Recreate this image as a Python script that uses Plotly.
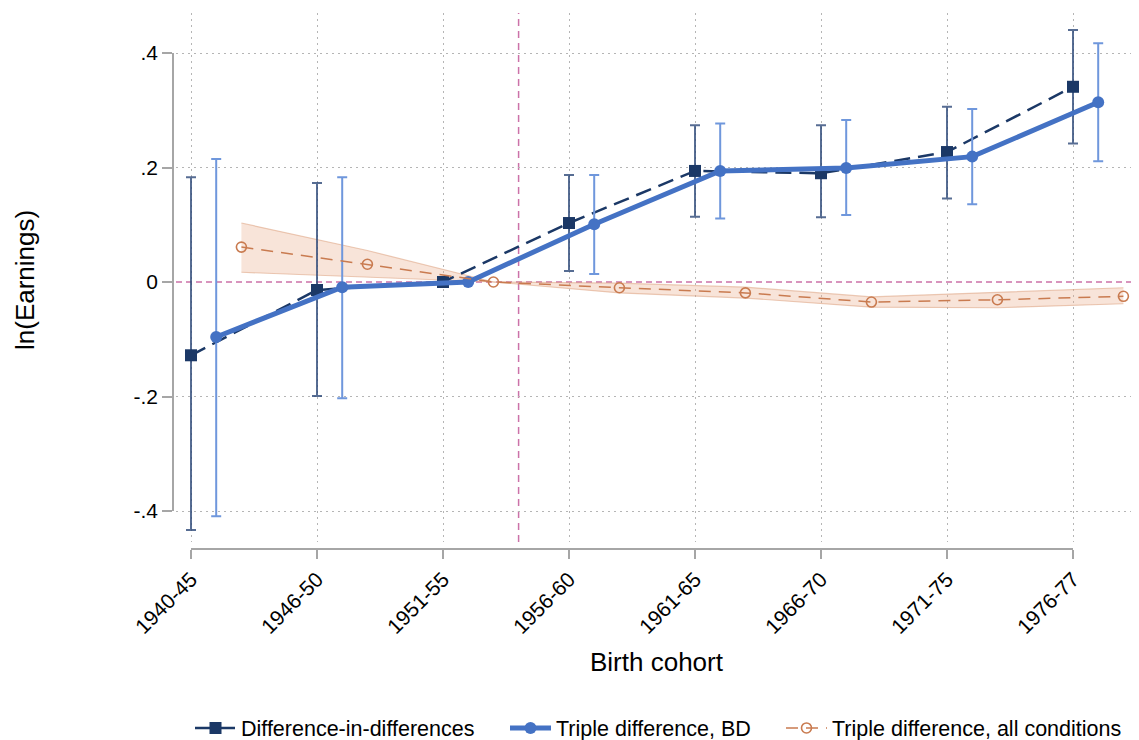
import plotly.graph_objects as go

# ---------------- data ----------------
cohorts = ["1940-45", "1946-50", "1951-55", "1956-60", "1961-65", "1966-70", "1971-75", "1976-77"]

did_est = [-0.128, -0.014, 0.0, 0.103, 0.194, 0.190, 0.227, 0.341]
did_lo = [-0.433, -0.199, None, 0.019, 0.114, 0.113, 0.146, 0.242]
did_hi = [0.183, 0.173, None, 0.187, 0.274, 0.274, 0.306, 0.440]

bd_est = [-0.096, -0.009, 0.0, 0.101, 0.194, 0.199, 0.219, 0.314]
bd_lo = [-0.409, -0.203, None, 0.014, 0.111, 0.117, 0.136, 0.211]
bd_hi = [0.215, 0.183, None, 0.187, 0.277, 0.283, 0.302, 0.417]

all_est = [0.061, 0.031, 0.0, -0.010, -0.019, -0.035, -0.031, -0.025]
all_lo = [0.017, 0.008, 0.0, -0.019, -0.028, -0.044, -0.045, -0.038]
all_hi = [0.103, 0.055, 0.0, -0.002, -0.009, -0.026, -0.018, -0.010]

y_ticks = [-0.4, -0.2, 0.0, 0.2, 0.4]
y_ticktext = ["-.4", "-.2", "0", ".2", ".4"]

treatment_x = 2.6  # position of the vertical reference line (between 1951-55 and 1956-60)

# ---------------- styling ----------------
FONT = "Liberation Sans, Arial, Helvetica, sans-serif"
NAVY = "#1b3866"
NAVY_ERR = "rgba(45,72,120,0.8)"
BLUE = "#4472c4"
BLUE_ERR = "#6f97dc"
ORANGE = "#c97b50"
BAND_FILL = "rgba(232,172,138,0.32)"
BAND_LINE = "rgba(220,160,125,0.55)"
PINK = "#cc72a8"
AXIS_GRAY = "#a6a6a6"
GRID = "#b5b5b5"
GRID_DASH = "1.5px,4.5px"
TICK_SIZE = 21
LEG_SIZE = 21.5

idx = list(range(len(cohorts)))
x_did = [i + 0.0 for i in idx]
x_bd = [i + 0.2 for i in idx]
x_all = [i + 0.4 for i in idx]


def err_up(est, hi):
    return [(h - e) if h is not None else 0 for e, h in zip(est, hi)]


def err_dn(est, lo):
    return [(e - l) if l is not None else 0 for e, l in zip(est, lo)]


fig = go.Figure()

# band for "all conditions"
fig.add_trace(go.Scatter(
    x=x_all, y=all_hi, mode="lines", line=dict(color=BAND_LINE, width=1.2),
    showlegend=False, hoverinfo="skip"))
fig.add_trace(go.Scatter(
    x=x_all, y=all_lo, mode="lines", line=dict(color=BAND_LINE, width=1.2),
    fill="tonexty", fillcolor=BAND_FILL, showlegend=False, hoverinfo="skip"))

# Difference-in-differences
fig.add_trace(go.Scatter(
    x=x_did, y=did_est, mode="lines+markers", name="Difference-in-differences",
    legend="legend",
    line=dict(color=NAVY, width=2.5, dash="16px,8px"),
    marker=dict(symbol="square", size=12, color=NAVY),
    error_y=dict(type="data", symmetric=False, array=err_up(did_est, did_hi),
                 arrayminus=err_dn(did_est, did_lo), color=NAVY_ERR, thickness=2, width=5)))

# Triple difference, BD
fig.add_trace(go.Scatter(
    x=x_bd, y=bd_est, mode="lines+markers", name="Triple difference, BD",
    legend="legend2",
    line=dict(color=BLUE, width=5),
    marker=dict(symbol="circle", size=12, color=BLUE),
    error_y=dict(type="data", symmetric=False, array=err_up(bd_est, bd_hi),
                 arrayminus=err_dn(bd_est, bd_lo), color=BLUE_ERR, thickness=2, width=5)))

# Triple difference, all conditions
fig.add_trace(go.Scatter(
    x=x_all, y=all_est, mode="lines+markers", name="Triple difference, all conditions",
    legend="legend3",
    line=dict(color=ORANGE, width=1.5, dash="12px,8px"),
    marker=dict(symbol="circle-open", size=10, color=ORANGE, line=dict(width=1.6, color=ORANGE))))

# dummy trace so that the display axes (x2/y2) exist
fig.add_trace(go.Scatter(x=[], y=[], xaxis="x2", yaxis="y2", showlegend=False, hoverinfo="skip"))

# ---------------- layout ----------------
# the page body adds an 8px offset; targets below are screen pixels
OFF = 8
W, H = 1139, 740
SL, ST, SB = 173, 13, 549           # screen left / top / bottom of paper area
ML, MT = SL - OFF, ST - OFF
MB = H - (SB - OFF)
MR = 0
PW = W - ML - MR
PH = H - MT - MB


def px_to_paper_x(px):
    return (px - SL) / PW


def px_to_paper_y(py):
    return (SB - py) / PH


def leg(px_left):
    return dict(orientation="h", x=px_to_paper_x(px_left), xanchor="left",
                y=px_to_paper_y(728), yanchor="middle", itemwidth=41,
                font=dict(size=LEG_SIZE, family=FONT), bgcolor="rgba(0,0,0,0)",
                borderwidth=0)


fig.update_layout(
    width=W, height=H, autosize=False,
    margin=dict(l=ML, r=MR, t=MT, b=MB, pad=0, autoexpand=False),
    paper_bgcolor="white", plot_bgcolor="rgba(0,0,0,0)",
    font=dict(family=FONT, size=20, color="black"),
    showlegend=True,
    legend=leg(190),
    legend2=leg(505),
    legend3=leg(781),
    xaxis=dict(domain=[px_to_paper_x(176), 1], range=[(176 - 191) / 126, (SL + PW - 191) / 126],
               tickvals=idx, showticklabels=False, ticks="", showline=False, automargin=False,
               showgrid=True, gridcolor=GRID, griddash=GRID_DASH, gridwidth=1, zeroline=False),
    yaxis=dict(domain=[px_to_paper_y(542), 1], range=[(282 - 542) / 572.5, (282 - ST) / 572.5],
               tickvals=[-0.4, -0.2, 0.2, 0.4], showticklabels=False, ticks="", showline=False,
               automargin=False,
               showgrid=True, gridcolor=GRID, griddash=GRID_DASH, gridwidth=1, zeroline=False),
    xaxis2=dict(domain=[px_to_paper_x(191), px_to_paper_x(1073)], range=[0, 7],
                anchor="free", position=0, side="bottom", automargin=False,
                tickvals=idx, ticktext=cohorts, tickangle=-45,
                ticks="outside", ticklen=9, tickwidth=1.5, tickcolor=AXIS_GRAY,
                showline=True, linecolor=AXIS_GRAY, linewidth=1.5,
                showgrid=False, zeroline=False, tickfont=dict(size=TICK_SIZE, family=FONT)),
    yaxis2=dict(domain=[px_to_paper_y(511), px_to_paper_y(53)], range=[-0.4, 0.4],
                anchor="free", position=0, side="left", automargin=False,
                tickvals=y_ticks, ticktext=y_ticktext,
                ticks="outside", ticklen=10, tickwidth=1.5, tickcolor=AXIS_GRAY,
                showline=True, linecolor=AXIS_GRAY, linewidth=1.5,
                showgrid=False, zeroline=False, tickfont=dict(size=TICK_SIZE, family=FONT)),
    shapes=[
        dict(type="line", xref="x domain", yref="y", x0=0, x1=1, y0=0, y1=0,
             line=dict(color=PINK, width=1.5, dash="6px,4px"), layer="below"),
        dict(type="line", xref="x", yref="y domain", x0=treatment_x, x1=treatment_x, y0=0, y1=1,
             line=dict(color=PINK, width=1.5, dash="7px,5px"), layer="below"),
    ],
    annotations=[
        dict(text="Birth cohort", xref="paper", yref="paper",
             x=px_to_paper_x(657), y=px_to_paper_y(662), xanchor="center", yanchor="middle",
             showarrow=False, font=dict(size=26, family=FONT, color="black")),
        dict(text="ln(Earnings)", xref="paper", yref="paper", textangle=-90,
             x=px_to_paper_x(25), y=px_to_paper_y(280), xanchor="center", yanchor="middle",
             showarrow=False, font=dict(size=26, family=FONT, color="black")),
    ],
    hovermode=False,
)

fig.write_html("out.html")
